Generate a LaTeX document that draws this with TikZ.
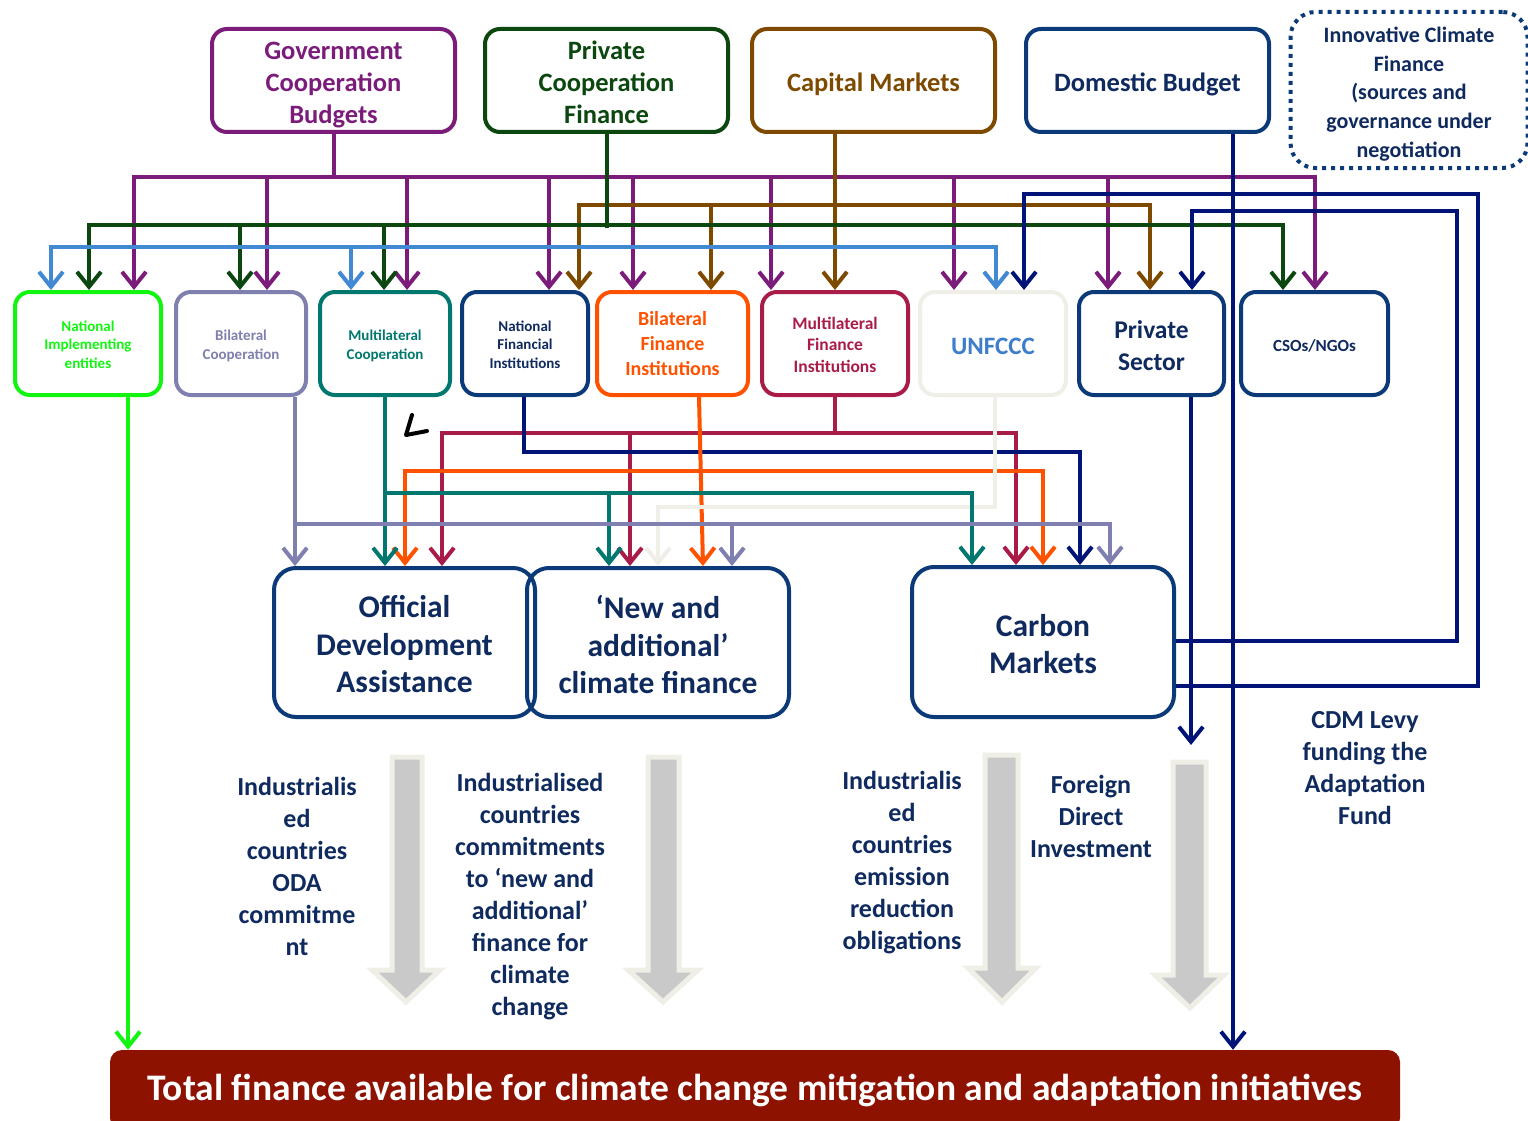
\documentclass[tikz,border=0pt]{standalone}
\usepackage{fontspec}
\setmainfont{Carlito}
\usetikzlibrary{arrows.meta}
\definecolor{cPur}{HTML}{7B1C7B}
\definecolor{cGrn}{HTML}{0B470F}
\definecolor{cBrn}{HTML}{7E4A00}
\definecolor{cNavyBox}{HTML}{0C3A78}
\definecolor{cNavyLine}{HTML}{001478}
\definecolor{cTxt}{HTML}{0F2A5E}
\definecolor{cLime}{HTML}{11F511}
\definecolor{cBic}{HTML}{7F80B0}
\definecolor{cTeal}{HTML}{00786F}
\definecolor{cOrg}{HTML}{FF5200}
\definecolor{cCrm}{HTML}{AA1C48}
\definecolor{cUnfB}{HTML}{EFEFE8}
\definecolor{cUnfT}{HTML}{3E7DCA}
\definecolor{cBlu}{HTML}{4189D3}
\definecolor{cRed}{HTML}{8E1200}
\definecolor{cGrey}{HTML}{C9C9C9}
\definecolor{cHalo}{HTML}{EFEFE7}
\begin{document}
\begin{tikzpicture}[x=1pt,y=-1pt,
  bx/.style={draw, rounded corners=15pt, line width=4pt},
  txt/.style={align=center, inner sep=0pt},
  ln/.style={line width=4pt},
  arr/.style={-{Straight Barb[length=15pt,width=24pt,line width=4pt]}},
  lab/.style={text=cTxt, align=center, inner sep=0pt, font=\bfseries\fontsize{26}{32}\selectfont},
  bigarrow/.style={fill=cGrey, draw=cHalo, line width=5pt, line join=miter},
]
\fill[white] (0,0) rectangle (1528,1121);
\useasboundingbox (0,0) rectangle (1528,1121);

% ---------- top row ----------
\node[bx, draw=cPur, minimum width=243pt, minimum height=103pt] (gov) at (333.5,80.5) {};
\node[txt, text=cPur, font=\bfseries\fontsize{26.5}{32}\selectfont] (govT) at ([yshift=-5pt]gov.center) {Government\\Cooperation\\Budgets};
\node[bx, draw=cGrn, minimum width=243pt, minimum height=103pt] (pcf) at (606.5,80.5) {};
\node[txt, text=cGrn, font=\bfseries\fontsize{26.5}{32}\selectfont] (pcfT) at ([yshift=-2pt]pcf.center) {Private\\Cooperation\\Finance};
\node[bx, draw=cBrn, minimum width=243pt, minimum height=103pt] (cap) at (873.5,80.5) {};
\node[txt, text=cBrn, font=\bfseries\fontsize{26.5}{32}\selectfont] (capT) at ([yshift=-4pt]cap.center) {Capital Markets};
\node[bx, draw=cNavyBox, minimum width=243pt, minimum height=103pt] (dom) at (1147.5,80.5) {};
\node[txt, text=cTxt, font=\bfseries\fontsize{26.5}{32}\selectfont] (domT) at ([yshift=-4pt]dom.center) {Domestic Budget};
\node[bx, draw=cNavyBox, rounded corners=25pt, dash pattern=on 4pt off 5pt, minimum width=237pt, minimum height=156pt] (inn) at (1409,90) {};
\node[txt, text=cTxt, font=\bfseries\fontsize{22}{28.8}\selectfont] (innT) at ([yshift=-4pt]inn.center) {Innovative Climate\\Finance\\(sources and\\governance under\\negotiation};

% ---------- second row ----------
\node[bx, draw=cLime, minimum width=146pt, minimum height=103pt] (nie) at (88,343.5) {};
\node[txt, text=cLime, font=\bfseries\fontsize{15}{18.5}\selectfont] (nieT) at ([yshift=-1pt]nie.center) {National\\Implementing\\entities};
\node[bx, draw=cBic, minimum width=130pt, minimum height=103pt] (bic) at (241,343.5) {};
\node[txt, text=cBic, font=\bfseries\fontsize{15}{19}\selectfont] (bicT) at ([yshift=-2pt]bic.center) {Bilateral\\Cooperation};
\node[bx, draw=cTeal, minimum width=130pt, minimum height=103pt] (mco) at (385,343.5) {};
\node[txt, text=cTeal, font=\bfseries\fontsize{15}{19}\selectfont] (mcoT) at ([yshift=-2pt]mco.center) {Multilateral\\Cooperation};
\node[bx, draw=cNavyBox, minimum width=126pt, minimum height=103pt] (nfi) at (525,343.5) {};
\node[txt, text=cTxt, font=\bfseries\fontsize{15}{18.5}\selectfont] (nfiT) at ([yshift=-1pt]nfi.center) {National\\Financial\\Institutions};
\node[bx, draw=cOrg, minimum width=151pt, minimum height=103pt] (bfi) at (672.5,343.5) {};
\node[txt, text=cOrg, font=\bfseries\fontsize{20}{25}\selectfont] (bfiT) at (bfi.center) {Bilateral\\Finance\\Institutions};
\node[bx, draw=cCrm, minimum width=146pt, minimum height=103pt] (mfi) at (835,343.5) {};
\node[txt, text=cCrm, font=\bfseries\fontsize{17.5}{21.5}\selectfont] (mfiT) at ([yshift=-1pt]mfi.center) {Multilateral\\Finance\\Institutions};
\node[bx, draw=cUnfB, minimum width=146pt, minimum height=103pt] (unf) at (993,343.5) {};
\node[txt, text=cUnfT, font=\bfseries\fontsize{25}{32}\selectfont] (unfT) at ([yshift=-3pt]unf.center) {UNFCCC};
\node[bx, draw=cNavyBox, minimum width=145pt, minimum height=103pt] (ps) at (1151.5,343.5) {};
\node[txt, text=cTxt, font=\bfseries\fontsize{25.5}{32}\selectfont] (psT) at ([yshift=-2pt]ps.center) {Private\\Sector};
\node[bx, draw=cNavyBox, minimum width=147pt, minimum height=103pt] (cso) at (1314.5,343.5) {};
\node[txt, text=cTxt, font=\bfseries\fontsize{17}{21}\selectfont] (csoT) at ([yshift=-2pt]cso.center) {CSOs/NGOs};

% ---------- third row ----------
\node[bx, draw=cNavyBox, rounded corners=22pt, minimum width=261pt, minimum height=149pt] (oda) at (404.5,642.5) {};
\node[txt, text=cTxt, font=\bfseries\fontsize{31.5}{37.5}\selectfont] (odaT) at ([yshift=-2pt]oda.center) {Official\\Development\\Assistance};
\node[bx, draw=cNavyBox, rounded corners=22pt, minimum width=262pt, minimum height=149pt] (nac) at (658,642.5) {};
\node[txt, text=cTxt, font=\bfseries\fontsize{31.5}{37.5}\selectfont] (nacT) at ([yshift=-2pt]nac.center) {‘New and\\additional’\\climate finance};
\node[bx, draw=cNavyBox, rounded corners=22pt, minimum width=262pt, minimum height=150pt] (cm) at (1043,642) {};
\node[txt, text=cTxt, font=\bfseries\fontsize{31.5}{37.5}\selectfont] (cmT) at ([yshift=-2pt]cm.center) {Carbon\\Markets};

% ---------- bottom bar ----------
\node[fill=cRed, rounded corners=12pt, minimum width=1290pt, minimum height=80pt, text=white, font=\bfseries\fontsize{37.5}{44}\selectfont] (total) at (755,1090) {Total finance available for climate change mitigation and adaptation initiatives};

% ---------- big grey arrows ----------
\draw[bigarrow] (392,757) -- (422,757) -- (422,970) -- (440,970) -- (406,1002) -- (372,970) -- (392,970) -- cycle;
\draw[bigarrow] (648,757) -- (679,757) -- (679,970) -- (698,970) -- (663,1002) -- (628,970) -- (648,970) -- cycle;
\draw[bigarrow] (985,755) -- (1018,755) -- (1018,968) -- (1036,968) -- (1002,1002) -- (968,968) -- (985,968) -- cycle;
\draw[bigarrow] (1173,762) -- (1206,762) -- (1206,975) -- (1224,975) -- (1190,1008) -- (1155,975) -- (1173,975) -- cycle;

% ---------- labels ----------
\node[lab] (lODA) at (297,866) {Industrialis\\ed\\countries\\ODA\\commitme\\nt};
\node[lab] (lNAC) at (530,897) {Industrialised\\countries\\commitments\\to ‘new and\\additional’\\finance for\\climate\\change};
\node[lab] (lCM) at (902,863) {Industrialis\\ed\\countries\\emission\\reduction\\obligations};
\node[lab] (lFDI) at (1091,816) {Foreign\\Direct\\Investment};
\node[lab] (lCDM) at (1365,768) {CDM Levy\\funding the\\Adaptation\\Fund};

% ---------- upper connectors ----------
% Government Cooperation Budgets (purple)
\draw[ln,cPur,arr] (gov.south) |- (134,177) -- (134,0 |- nie.north);
\draw[ln,cPur,arr] (gov.south) |- (1315,177) -- (1315,0 |- cso.north);
\foreach \xx/\nn in {267/bic,407/mco,549/nfi,633/bfi,771/mfi,954/unf,1108/ps}
  \draw[ln,cPur,arr] (\xx,177) -- (\xx,0 |- \nn.north);

% Capital Markets (brown)
\draw[ln,cBrn,arr] (835,0 |- cap.south) -- (835,0 |- mfi.north);
\draw[ln,cBrn,arr] (1150,205) -- (579,205) -- (579,0 |- nfi.north);
\draw[ln,cBrn,arr] (579,205) -| (1150,0 |- ps.north);
\draw[ln,cBrn,arr] (711,205) -- (711,0 |- bfi.north);

% Private Cooperation Finance (dark green)
\draw[ln,cGrn] (607,0 |- pcf.south) -- (607,228);
\draw[ln,cGrn,arr] (1283,225) -- (89,225) -- (89,0 |- nie.north);
\draw[ln,cGrn,arr] (89,225) -| (1283,0 |- cso.north);
\draw[ln,cGrn,arr] (240,225) -- (240,0 |- bic.north);
\draw[ln,cGrn,arr] (384,225) -- (384,0 |- mco.north);

% light blue
\draw[ln,cBlu,arr] (996,247) -- (51,247) -- (51,0 |- nie.north);
\draw[ln,cBlu,arr] (51,247) -| (996,0 |- unf.north);
\draw[ln,cBlu,arr] (351,249) -- (351,0 |- mco.north);

% Carbon market levy loops (navy)
\draw[ln,cNavyLine,arr] (cm.east |- 0,641) -- (1457,641) -- (1457,211) -- (1192,211) -- (1192,0 |- ps.north);
\draw[ln,cNavyLine,arr] (cm.east |- 0,686) -- (1478,686) -- (1478,194) -- (1024,194) -- (1024,0 |- unf.north);

% Domestic budget (navy)
\draw[ln,cNavyLine,arr] (1233,0 |- dom.south) -- (1233,0 |- total.north);

% Private sector down
\coordinate (fdiend) at (1191,745);
\draw[ln,cNavyLine,arr] (1191,0 |- ps.south) -- (fdiend);

% National Implementing entities down
\draw[ln,cLime,arr] (128,0 |- nie.south) -- (128,0 |- total.north);

% ---------- lower connectors ----------
% Multilateral finance institutions (crimson)
\draw[ln,cCrm] (mfi.south) -- (835,433);
\draw[ln,cCrm,arr] (1016,433) -- (442,433) -- (442,0 |- oda.north);
\draw[ln,cCrm,arr] (442,433) -| (1016,0 |- cm.north);
\draw[ln,cCrm,arr] (630,433) -- (630,0 |- nac.north);

% National financial institutions (navy)
\draw[ln,cNavyLine,arr] (524,0 |- nfi.south) |- (1080,452) -- (1080,0 |- cm.north);

% Bilateral finance institutions (orange)
\draw[ln,cOrg,arr] (1043,471) -- (405,471) -- (405,0 |- oda.north);
\draw[ln,cOrg,arr] (405,471) -| (1043,0 |- cm.north);
\draw[ln,cOrg,arr] (699,0 |- bfi.south) -- (703,0 |- nac.north);

% UNFCCC (very light grey)
\draw[ln,cUnfB,arr] (995,0 |- unf.south) |- (658,507) -- (658,0 |- nac.north);

% Multilateral cooperation (teal)
\draw[ln,cTeal,arr] (mco.south) -- (mco.south |- oda.north);
\draw[ln,cTeal,arr] (385,493) -| (972,0 |- cm.north);
\draw[ln,cTeal,arr] (609,493) -- (609,0 |- nac.north);

% Bilateral cooperation (grey-violet)
\draw[ln,cBic,arr] (295,0 |- bic.south) -- (295,0 |- oda.north);
\draw[ln,cBic,arr] (295,524) -| (1110,0 |- cm.north);
\draw[ln,cBic,arr] (732,524) -- (732,0 |- nac.north);

% stray black mark
\draw[line width=4pt, line join=round, line cap=round] (412,415) -- (406,435) -- (427,431);
\end{tikzpicture}
\end{document}
